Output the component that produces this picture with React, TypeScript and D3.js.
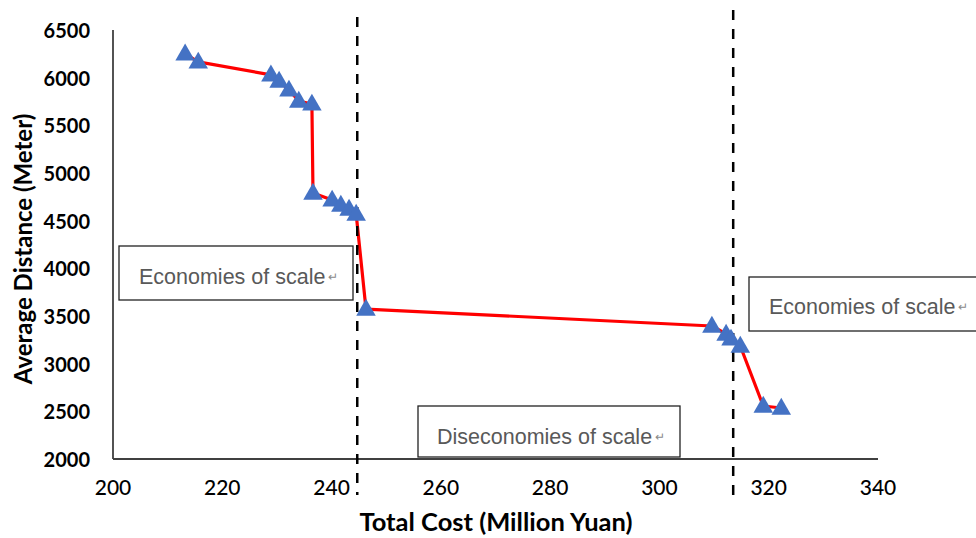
import React from "react";
import * as d3 from "d3";

const costs = [213.2, 215.6, 228.9, 230.4, 232.2, 234.0, 236.4, 236.6, 240.1, 241.7, 243.2, 244.5, 246.3, 309.6, 312.2, 313.1, 314.8, 319.0, 322.3];
const distances = [6250, 6165, 6030, 5965, 5871, 5755, 5724, 4790, 4717, 4664, 4622, 4570, 3573, 3395, 3311, 3259, 3185, 2556, 2535];
const xTicks = [200, 220, 240, 260, 280, 300, 320, 340];
const yTicks = [2000, 2500, 3000, 3500, 4000, 4500, 5000, 5500, 6000, 6500];
const boundaries = [244.7, 313.5];
const regionLabels = ["Economies of scale", "Diseconomies of scale", "Economies of scale"];
const xTitle = "Total Cost (Million Yuan)";
const yTitle = "Average Distance (Meter)";

const W = 976;
const H = 538;
const plot = { left: 113, right: 878, top: 30, bottom: 459 };

// annotation boxes (pixel layout)
const boxes = [
  { x: 119, y: 246, w: 234, h: 54, tx: 139, ty: 277 },
  { x: 418, y: 406, w: 262, h: 51, tx: 437, ty: 437 },
  { x: 749, y: 277, w: 240, h: 54, tx: 769, ty: 307 },
];

export default function App() {
  const x = d3.scaleLinear().domain([200, 340]).range([plot.left, plot.right]);
  const y = d3.scaleLinear().domain([2000, 6500]).range([plot.bottom, plot.top]);
  const pts = costs.map((c, i) => [c, distances[i]] as [number, number]);
  const line = d3.line<[number, number]>().x((d) => x(d[0])).y((d) => y(d[1]))(pts) || "";
  const tri = d3.symbol().type(d3.symbolTriangle).size(165)() || "";
  const tickFont = "Lato, 'Open Sans', sans-serif";
  const boxFont = "'Liberation Sans', Arial, sans-serif";
  return (
    <svg width={W} height={H} style={{ position: "absolute", left: 0, top: 0, background: "#fff" }}>
      <rect x={0} y={0} width={W} height={H} fill="#fff" />
      {/* axes */}
      <line x1={plot.left} x2={plot.left} y1={plot.top} y2={plot.bottom} stroke="#404040" strokeWidth={1.8} />
      <line x1={plot.left} x2={plot.right} y1={plot.bottom} y2={plot.bottom} stroke="#404040" strokeWidth={1.8} />
      {yTicks.map((t) => (
        <text key={t} x={90} y={y(t)} textAnchor="end" dominantBaseline="central" fontFamily={tickFont} fontWeight={700} fontSize={20} fill="#000">
          {t}
        </text>
      ))}
      {xTicks.map((t) => (
        <text key={t} x={x(t)} y={486} textAnchor="middle" dominantBaseline="central" fontFamily={tickFont} fontWeight={500} fontSize={21} fill="#000">
          {t}
        </text>
      ))}
      <text x={496} y={521} textAnchor="middle" dominantBaseline="central" fontFamily={tickFont} fontWeight={700} fontSize={25.5} fill="#000">
        {xTitle}
      </text>
      <text transform={`translate(22,249) rotate(-90)`} textAnchor="middle" dominantBaseline="central" fontFamily={tickFont} fontWeight={700} fontSize={24} fill="#000">
        {yTitle}
      </text>
      {/* annotation boxes */}
      {boxes.map((b, i) => (
        <g key={i}>
          <rect x={b.x} y={b.y} width={b.w} height={b.h} fill="#fff" stroke="#222" strokeWidth={1.3} />
          <text x={b.tx} y={b.ty} dominantBaseline="central" fontFamily={boxFont} fontSize={21.5} fill="#595959">
            {regionLabels[i]}
            <tspan dx={3} fontSize={12} fill="#8a8a8a">↵</tspan>
          </text>
        </g>
      ))}
      {/* line */}
      <path d={line} fill="none" stroke="#ff0000" strokeWidth={3.2} strokeLinejoin="round" />
      {/* boundaries */}
      {boundaries.map((b, i) => (
        <line key={i} x1={x(b)} x2={x(b)} y1={i === 0 ? 17 : 10} y2={i === 0 ? 495 : 498} stroke="#000" strokeWidth={2.5} strokeDasharray="10,9" />
      ))}
      {/* markers */}
      {pts.map((p, i) => (
        <path key={i} d={tri} transform={`translate(${x(p[0])},${y(p[1]) + 1})`} fill="#4472C4" />
      ))}
    </svg>
  );
}
